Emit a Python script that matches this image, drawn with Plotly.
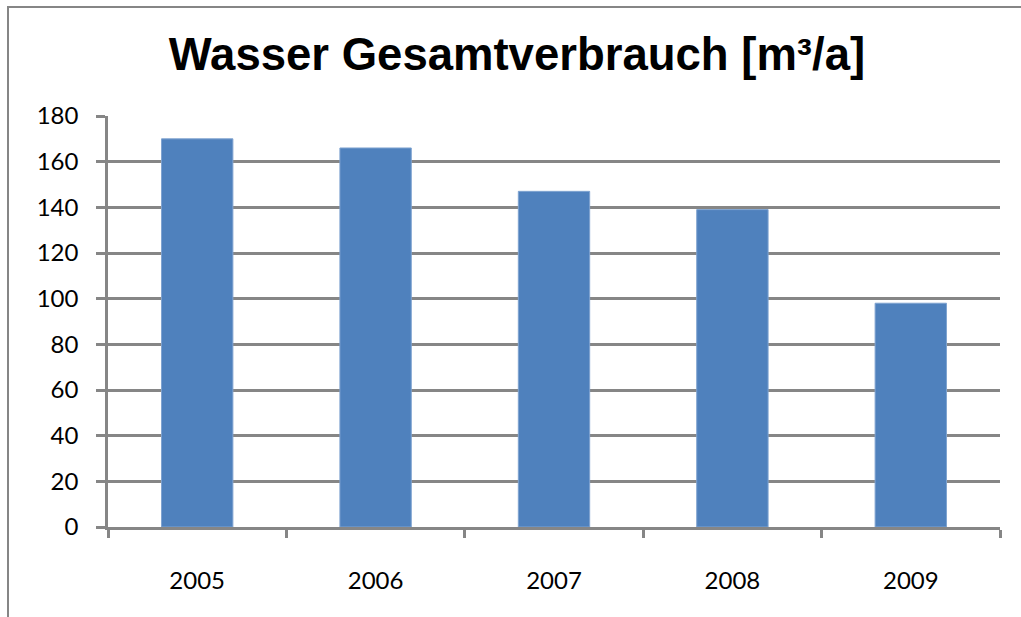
import plotly.graph_objects as go

years = ["2005", "2006", "2007", "2008", "2009"]
verbrauch = [170, 166, 147, 139, 98]
y_ticks = [0, 20, 40, 60, 80, 100, 120, 140, 160, 180]

W, H = 1021, 617
L, R, T, B = 108, 1000, 116, 527
GRAY = "#868686"

fig = go.Figure(go.Bar(
    x=years, y=verbrauch, width=0.4,
    marker=dict(color="#4F81BD", line=dict(color="#7fa3d0", width=1)),
))

def px_x(p):
    return (p - L) / (R - L)

def px_y(p):
    return (B - p) / (B - T)

fig.add_shape(type="rect", xref="paper", yref="paper",
              x0=px_x(8), x1=px_x(1040), y0=px_y(640), y1=px_y(7),
              line=dict(color=GRAY, width=2), fillcolor="rgba(0,0,0,0)", layer="below")

fig.update_layout(
    width=W, height=H,
    margin=dict(l=L, r=W - R, t=T, b=H - B, pad=0),
    paper_bgcolor="white", plot_bgcolor="white",
    showlegend=False,
    title=dict(text="<b>Wasser Gesamtverbrauch [m³/a]</b>",
               font=dict(family="Liberation Sans, Arial", size=45.5, color="black"),
               x=517 / W, xanchor="center", y=1 - 54 / H, yanchor="middle",
               xref="container", yref="container"),
    font=dict(family="Lato, Open Sans, sans-serif", size=24, color="black"),
    bargap=0.6,
)
fig.update_xaxes(type="category", tickson="boundaries", ticks="outside", ticklen=8,
                 tickwidth=2.5, tickcolor=GRAY, showline=True, linecolor=GRAY, linewidth=2.5,
                 showgrid=False, ticklabelstandoff=30, range=[-0.5, 4.5])
fig.update_yaxes(range=[0, 180], tickvals=y_ticks, ticks="outside", ticklen=9, tickwidth=2.5,
                 tickcolor=GRAY, showline=True, linecolor=GRAY, linewidth=2.5,
                 showgrid=True, gridcolor=GRAY, gridwidth=2.5, zeroline=False,
                 ticklabelstandoff=13)

fig.write_html("out.html", config={"displayModeBar": False},
               post_script="document.body.style.margin='0';document.body.style.overflow='hidden';")
